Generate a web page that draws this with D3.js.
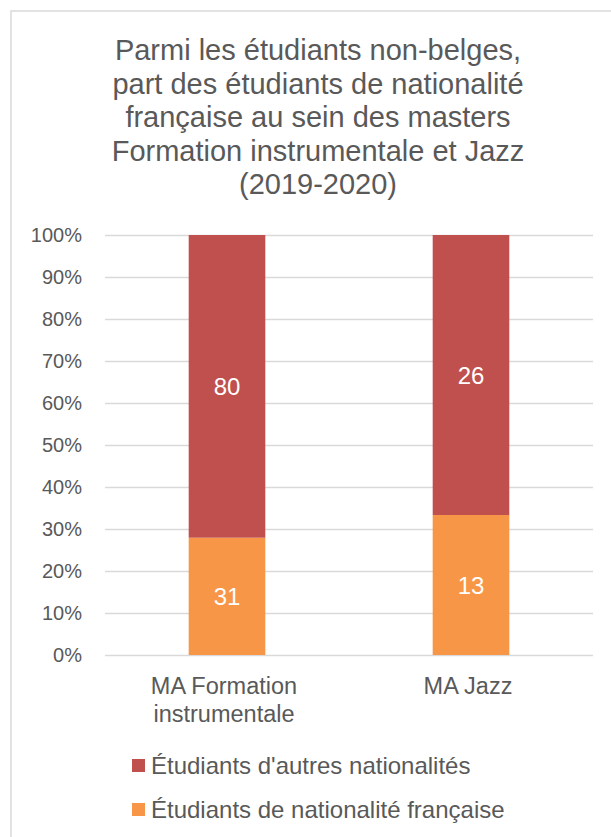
<!DOCTYPE html>
<html>
<head>
<meta charset="utf-8">
<script src="https://cdn.jsdelivr.net/npm/d3@7"></script>
<style>
  html, body { margin: 0; padding: 0; background: #fff; }
  svg { display: block; font-family: "Liberation Sans", Arial, Helvetica, sans-serif; }
</style>
</head>
<body>
<svg id="chart" width="611" height="837"></svg>
<script>
// ---- Data ----
const titleLines = [
  "Parmi les étudiants non-belges,",
  "part des étudiants de nationalité",
  "française au sein des masters",
  "Formation instrumentale et Jazz",
  "(2019-2020)"
];
const categories = ["MA Formation instrumentale", "MA Jazz"];
const categoryLines = [["MA Formation", "instrumentale"], ["MA Jazz"]];
const seriesNames = ["Étudiants de nationalité française", "Étudiants d'autres nationalités"];
const francaise = [31, 13];
const autres = [80, 26];
const yTickValues = [0, 0.1, 0.2, 0.3, 0.4, 0.5, 0.6, 0.7, 0.8, 0.9, 1.0];
const colors = { "Étudiants de nationalité française": "#F79646", "Étudiants d'autres nationalités": "#C0504D" };
const legendOrder = ["Étudiants d'autres nationalités", "Étudiants de nationalité française"];

// ---- Layout ----
const svg = d3.select("#chart");
const textColor = "#595959";
const gridColor = "#d9d9d9";
const plot = { left: 105, right: 593, top: 235, bottom: 655 };

// chart frame (cropped at right/bottom)
svg.append("rect")
  .attr("x", 11).attr("y", 11)
  .attr("width", 700).attr("height", 900)
  .attr("fill", "none").attr("stroke", gridColor).attr("stroke-width", 1.5);

// title
const title = svg.append("text")
  .attr("text-anchor", "middle")
  .attr("fill", textColor)
  .attr("font-size", 29);
titleLines.forEach((l, i) => {
  title.append("tspan").attr("x", 318).attr("y", 60 + i * 33.5).text(l);
});

// data table
const rows = categories.map((c, i) => ({
  cat: c,
  "Étudiants de nationalité française": francaise[i],
  "Étudiants d'autres nationalités": autres[i]
}));
const stacked = d3.stack().keys(seriesNames).offset(d3.stackOffsetExpand)(rows);

const x = d3.scaleBand()
  .domain(categories)
  .range([plot.left, plot.right])
  .paddingInner(0.686)
  .paddingOuter(0.343);
const y = d3.scaleLinear().domain([0, 1]).range([plot.bottom, plot.top]);

// gridlines + y axis labels
const yAxis = d3.axisLeft(y)
  .tickValues(yTickValues)
  .tickFormat(d3.format(".0%"))
  .tickSize(-(plot.right - plot.left))
  .tickPadding(23);
const yg = svg.append("g").attr("transform", `translate(${plot.left},0)`).call(yAxis);
yg.select(".domain").remove();
yg.selectAll(".tick line").attr("stroke", gridColor).attr("stroke-width", 1.4);
yg.selectAll(".tick text")
  .attr("fill", textColor)
  .attr("font-size", 20)
  .attr("font-family", "Liberation Sans, Arial, sans-serif");

// bars
const layers = svg.append("g").selectAll("g")
  .data(stacked).join("g")
  .attr("fill", d => colors[d.key]);
layers.selectAll("rect")
  .data(d => d.map(p => ({ p, key: d.key })))
  .join("rect")
  .attr("x", d => x(d.p.data.cat))
  .attr("width", x.bandwidth())
  .attr("y", d => y(d.p[1]))
  .attr("height", d => y(d.p[0]) - y(d.p[1]));

// data labels
layers.selectAll("text")
  .data(d => d.map(p => ({ p, key: d.key })))
  .join("text")
  .attr("x", d => x(d.p.data.cat) + x.bandwidth() / 2)
  .attr("y", d => (y(d.p[0]) + y(d.p[1])) / 2)
  .attr("dy", "0.36em")
  .attr("text-anchor", "middle")
  .attr("fill", "#ffffff")
  .attr("font-size", 24)
  .text(d => d.p.data[d.key]);

// x axis labels
const xl = svg.append("g");
categories.forEach((c, i) => {
  const t = xl.append("text")
    .attr("text-anchor", "middle")
    .attr("fill", textColor)
    .attr("font-size", 23.5);
  categoryLines[i].forEach((line, j) => {
    t.append("tspan")
      .attr("x", x(c) + x.bandwidth() / 2 - 3)
      .attr("y", 694 + j * 28)
      .text(line);
  });
});

// legend
const lg = svg.append("g");
legendOrder.forEach((name, i) => {
  const yy = 759 + i * 44;
  lg.append("rect").attr("x", 132).attr("y", yy).attr("width", 13).attr("height", 13)
    .attr("fill", colors[name]);
  lg.append("text").attr("x", 151).attr("y", yy + 14.5)
    .attr("fill", textColor).attr("font-size", 24).text(name);
});
</script>
</body>
</html>
